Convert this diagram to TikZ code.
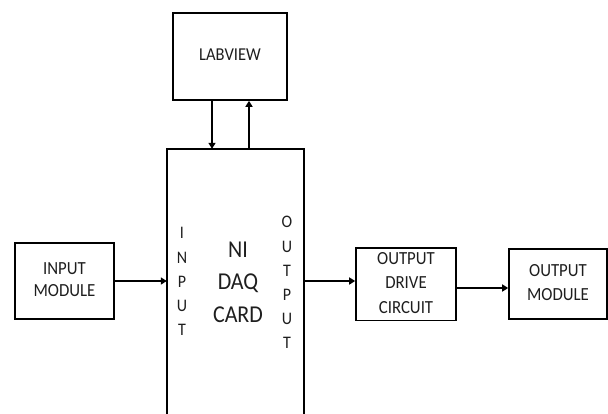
\documentclass[tikz,border=0pt]{standalone}
\usepackage{fontspec}
\setmainfont{Carlito}
\usetikzlibrary{arrows.meta}
\definecolor{txt}{HTML}{1E1E1E}
\newcommand{\lbl}[3]{\scalebox{1}[1.1]{\fontsize{#1}{#2}\selectfont\begin{tabular}{@{}c@{}}#3\end{tabular}}}
\tikzset{
  box/.style={draw=black, line width=1.6pt, rectangle, inner sep=0pt, text=txt},
  plain/.style={inner sep=0pt, text=txt},
  arr/.style={line width=2.8pt, -{Triangle[length=6pt,width=7pt]}}
}
\begin{document}
\begin{tikzpicture}[x=1pt,y=-1pt]
\useasboundingbox (0,0) rectangle (608,413);
\node[box, minimum width=114pt, minimum height=87pt] (lab) at (230,56.5) {\lbl{16.5}{20}{LABVIEW}};
\node[box, minimum width=99pt, minimum height=76pt] (in) at (64.5,281) {\lbl{16.8}{20.6}{INPUT\\MODULE}};
\node[box, minimum width=100pt, minimum height=70pt] (odc) at (406,284) {\lbl{16.8}{22}{OUTPUT\\DRIVE\\CIRCUIT}};
\node[box, minimum width=98pt, minimum height=70pt] (om) at (558,284) {\lbl{16.8}{21.8}{OUTPUT\\MODULE}};
\node[plain, minimum width=137pt, minimum height=271pt] (daq) at (235.5,284.5) {};
\draw[line width=1.5pt] (daq.north west) -- (daq.north east) -- (daq.south east);
\draw[line width=2.6pt] (daq.south west) -- ([yshift=0.6pt]daq.north west);
\node[plain] (ni) at (238,283.5) {\lbl{22}{29.4}{NI\\DAQ\\CARD}};
\node[plain] (inl) at (182,282.5) {\lbl{16}{22}{I\\N\\P\\U\\T}};
\node[plain] (outl) at (287,283.5) {\lbl{16}{22}{O\\U\\T\\P\\U\\T}};
\draw[arr] (in.east) -- (in.east -| daq.west);
\draw[arr] (daq.east |- in.east) -- (odc.west |- in.east);
\draw[arr] ([yshift=-4pt]odc.east) -- ([yshift=-4pt]om.west);
\draw[arr] ([xshift=-18pt]lab.south) -- ([xshift=-18pt]lab.south |- daq.north);
\draw[arr] ([xshift=19pt]lab.south |- daq.north) -- ([xshift=19pt]lab.south);
\end{tikzpicture}
\end{document}
